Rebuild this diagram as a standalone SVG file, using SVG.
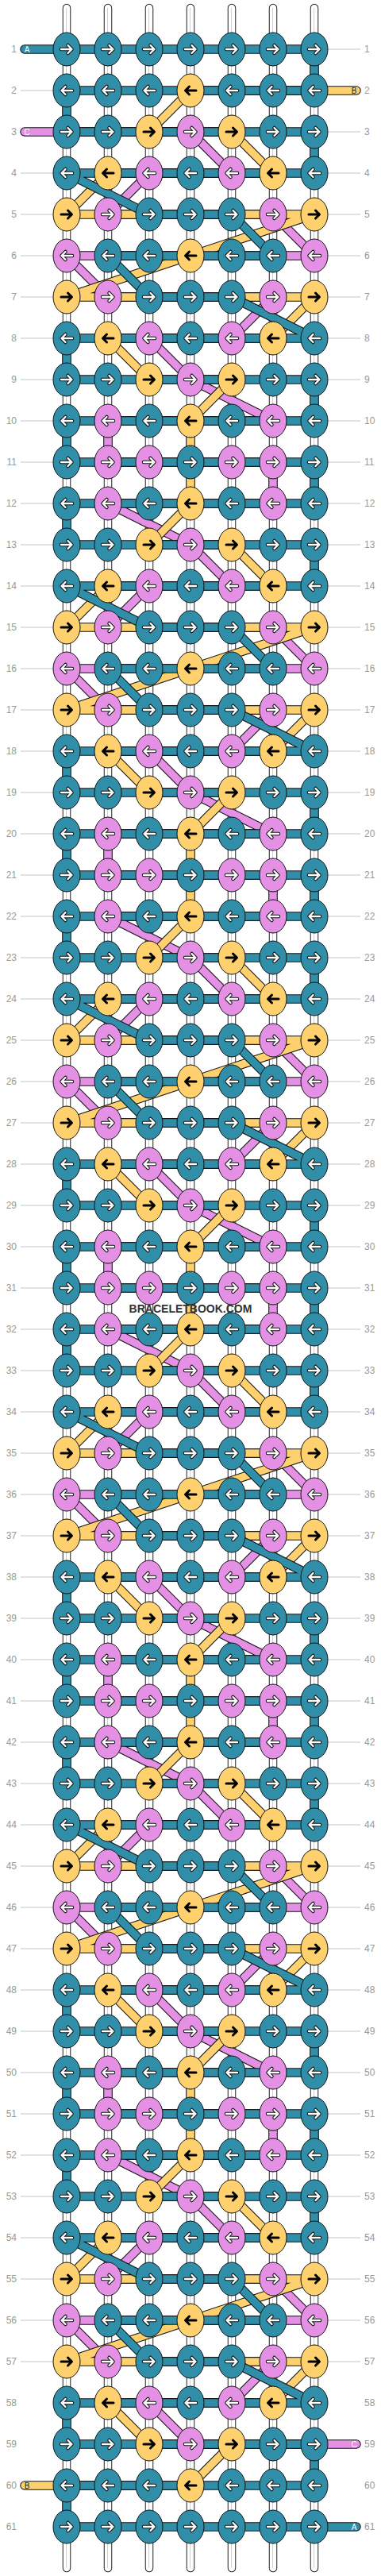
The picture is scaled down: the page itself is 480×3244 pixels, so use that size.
<svg xmlns="http://www.w3.org/2000/svg" width="480" height="3244" viewBox="0 0 480 3244">
<style>
.bg{fill:#fff}
.gl{fill:none;stroke:#c4c4c4;stroke-width:1}
.so{fill:none;stroke:#222;stroke-width:10.5;stroke-linecap:round}
.si{fill:none;stroke:#fff;stroke-width:8.5;stroke-linecap:round}
.sc{fill:none;stroke:#d0d0d0;stroke-width:1}
.tb{fill:none;stroke:#111;stroke-width:11.5;stroke-linejoin:round;stroke-linecap:round}
.tc{fill:none;stroke-width:9.5;stroke-linejoin:round;stroke-linecap:round}
.cp{stroke:#e490e4}
.cy{stroke:#fed06e}
.ct{stroke:#308ea9}
.T{fill:#308ea9;stroke:#111;stroke-width:1}
.Y{fill:#fed06e;stroke:#111;stroke-width:1}
.P{fill:#e490e4;stroke:#111;stroke-width:1}
.ao{fill:none;stroke:#111;stroke-width:4.5;stroke-linecap:round;stroke-linejoin:round}
.aw{fill:none;stroke:#fff;stroke-width:2.4;stroke-linecap:round;stroke-linejoin:round}
.ab{fill:none;stroke:#000;stroke-width:3;stroke-linecap:round;stroke-linejoin:round}
.l{font-family:"Liberation Sans",Arial,sans-serif;font-size:12px;fill:#999;text-anchor:end}
.r{font-family:"Liberation Sans",Arial,sans-serif;font-size:12px;fill:#999;text-anchor:start}
.sl{font-family:"Liberation Sans",Arial,sans-serif;font-size:10px;text-anchor:middle}
.wm{font-family:"Liberation Sans",Arial,sans-serif;font-size:14px;font-weight:bold;fill:#333;text-anchor:middle}
</style>
<defs>
<path id="aR" d="M-7 0H6M1.5-5L6.5 0L1.5 5"/>
<path id="aL" d="M7 0H-6M-1.5-5L-6.5 0L-1.5 5"/>
<g id="TR"><ellipse rx="17" ry="21" class="T"/><use href="#aR" class="ao"/><use href="#aR" class="aw"/></g>
<g id="TL"><ellipse rx="17" ry="21" class="T"/><use href="#aL" class="ao"/><use href="#aL" class="aw"/></g>
<g id="PR"><ellipse rx="17" ry="21" class="P"/><use href="#aR" class="ao"/><use href="#aR" class="aw"/></g>
<g id="PL"><ellipse rx="17" ry="21" class="P"/><use href="#aL" class="ao"/><use href="#aL" class="aw"/></g>
<g id="YR"><ellipse rx="17" ry="21" class="Y"/><use href="#aR" class="ab"/></g>
<g id="YL"><ellipse rx="17" ry="21" class="Y"/><use href="#aL" class="ab"/></g>
<path id="pinkD" d="M31 166H240L292 218h-104 l-52 52 h208 l52 52 h-312 l52 52 h208 l-52 52 h-104 l52 52 l104 52 h-208 v52 h208 v52 h-208 l104 52 l52 52h-104 l-52 52 h208 l52 52 h-312 l52 52 h208 l-52 52 h-104 l52 52 l104 52 h-208 v52 h208 v52 h-208 l104 52 l52 52h-104 l-52 52 h208 l52 52 h-312 l52 52 h208 l-52 52 h-104 l52 52 l104 52 h-208 v52 h208 v52 h-208 l104 52 l52 52h-104 l-52 52 h208 l52 52 h-312 l52 52 h208 l-52 52 h-104 l52 52 l104 52 h-208 v52 h208 v52 h-208 l104 52 l52 52h-104 l-52 52 h208 l52 52 h-312 l52 52 h208 l-52 52 h-104 l52 52 l104 52 h-208 v52 h208 v52 h-208 l104 52 l52 52h-104 l-52 52 h208 l52 52 h-312 l52 52 h208 l-52 52 h-104 l52 52H449"/>
<path id="yelD" d="M449 114H240L188 166H292L344 218h-208 l-52 52 h312 l-156 52 l-156 52 h312 l-52 52 h-208 l52 52 h104 l-52 52 v104 l-52 52 h104 l52 52h-208 l-52 52 h312 l-156 52 l-156 52 h312 l-52 52 h-208 l52 52 h104 l-52 52 v104 l-52 52 h104 l52 52h-208 l-52 52 h312 l-156 52 l-156 52 h312 l-52 52 h-208 l52 52 h104 l-52 52 v104 l-52 52 h104 l52 52h-208 l-52 52 h312 l-156 52 l-156 52 h312 l-52 52 h-208 l52 52 h104 l-52 52 v104 l-52 52 h104 l52 52h-208 l-52 52 h312 l-156 52 l-156 52 h312 l-52 52 h-208 l52 52 h104 l-52 52 v104 l-52 52 h104 l52 52h-208 l-52 52 h312 l-156 52 l-156 52 h312 l-52 52 h-208 l52 52 h104L240 3130H31"/>
<path id="tealD" d="M31 62H396V114H84V166H396V218h-312 l104 52 h104 l52 52 h-208 l52 52 h104 l104 52 h-312 v52 h312 v52 h-312 v52 h312 v52 h-312 v52 h312 v52h-312 l104 52 h104 l52 52 h-208 l52 52 h104 l104 52 h-312 v52 h312 v52 h-312 v52 h312 v52 h-312 v52 h312 v52h-312 l104 52 h104 l52 52 h-208 l52 52 h104 l104 52 h-312 v52 h312 v52 h-312 v52 h312 v52 h-312 v52 h312 v52h-312 l104 52 h104 l52 52 h-208 l52 52 h104 l104 52 h-312 v52 h312 v52 h-312 v52 h312 v52 h-312 v52 h312 v52h-312 l104 52 h104 l52 52 h-208 l52 52 h104 l104 52 h-312 v52 h312 v52 h-312 v52 h312 v52 h-312 v52 h312 v52h-312 l104 52 h104 l52 52 h-208 l52 52 h104 l104 52 h-312 v52 h312V3130H84V3182H449"/>
</defs>
<rect class="bg" x="0" y="0" width="480" height="3244"/>
<g id="rowlines">
<path class="gl" d="M26 62h58m312 0h58m-428 52h58m312 0h58m-428 52h58m312 0h58m-428 52h58m312 0h58m-428 52h58m312 0h58m-428 52h58m312 0h58m-428 52h58m312 0h58m-428 52h58m312 0h58m-428 52h58m312 0h58m-428 52h58m312 0h58m-428 52h58m312 0h58m-428 52h58m312 0h58m-428 52h58m312 0h58m-428 52h58m312 0h58m-428 52h58m312 0h58m-428 52h58m312 0h58m-428 52h58m312 0h58m-428 52h58m312 0h58m-428 52h58m312 0h58m-428 52h58m312 0h58m-428 52h58m312 0h58m-428 52h58m312 0h58m-428 52h58m312 0h58m-428 52h58m312 0h58m-428 52h58m312 0h58m-428 52h58m312 0h58m-428 52h58m312 0h58m-428 52h58m312 0h58m-428 52h58m312 0h58m-428 52h58m312 0h58m-428 52h58m312 0h58m-428 52h58m312 0h58m-428 52h58m312 0h58m-428 52h58m312 0h58m-428 52h58m312 0h58m-428 52h58m312 0h58m-428 52h58m312 0h58m-428 52h58m312 0h58m-428 52h58m312 0h58m-428 52h58m312 0h58m-428 52h58m312 0h58m-428 52h58m312 0h58m-428 52h58m312 0h58m-428 52h58m312 0h58m-428 52h58m312 0h58m-428 52h58m312 0h58m-428 52h58m312 0h58m-428 52h58m312 0h58m-428 52h58m312 0h58m-428 52h58m312 0h58m-428 52h58m312 0h58m-428 52h58m312 0h58m-428 52h58m312 0h58m-428 52h58m312 0h58m-428 52h58m312 0h58m-428 52h58m312 0h58m-428 52h58m312 0h58"/>
</g>
<g id="strings">
<path class="so" d="M84 10V3234M136 10V3234M188 10V3234M240 10V3234M292 10V3234M344 10V3234M396 10V3234"/>
<path class="si" d="M84 10V3234M136 10V3234M188 10V3234M240 10V3234M292 10V3234M344 10V3234M396 10V3234"/>
<path class="sc" d="M83.5 10V3234M135.5 10V3234M187.5 10V3234M239.5 10V3234M291.5 10V3234M343.5 10V3234M395.5 10V3234"/>
</g>
<g id="connectors">
<use href="#pinkD" class="tb"/>
<use href="#pinkD" class="tc cp"/>
<use href="#yelD" class="tb"/>
<use href="#yelD" class="tc cy"/>
<use href="#tealD" class="tb"/>
<use href="#tealD" class="tc ct"/>
</g>
<g id="nodes">
<g id="n1-1"><use href="#TR" x="84" y="62"/></g><g id="n1-2"><use href="#TR" x="136" y="62"/></g><g id="n1-3"><use href="#TR" x="188" y="62"/></g><g id="n1-4"><use href="#TR" x="240" y="62"/></g><g id="n1-5"><use href="#TR" x="292" y="62"/></g><g id="n1-6"><use href="#TR" x="344" y="62"/></g><g id="n1-7"><use href="#TR" x="396" y="62"/></g>
<g id="n2-1"><use href="#TL" x="84" y="114"/></g><g id="n2-2"><use href="#TL" x="136" y="114"/></g><g id="n2-3"><use href="#TL" x="188" y="114"/></g><g id="n2-4"><use href="#YL" x="240" y="114"/></g><g id="n2-5"><use href="#TL" x="292" y="114"/></g><g id="n2-6"><use href="#TL" x="344" y="114"/></g><g id="n2-7"><use href="#TL" x="396" y="114"/></g>
<g id="n3-1"><use href="#TR" x="84" y="166"/></g><g id="n3-2"><use href="#TR" x="136" y="166"/></g><g id="n3-3"><use href="#YR" x="188" y="166"/></g><g id="n3-4"><use href="#PR" x="240" y="166"/></g><g id="n3-5"><use href="#YR" x="292" y="166"/></g><g id="n3-6"><use href="#TR" x="344" y="166"/></g><g id="n3-7"><use href="#TR" x="396" y="166"/></g>
<g id="n4-1"><use href="#TL" x="84" y="218"/></g><g id="n4-2"><use href="#YL" x="136" y="218"/></g><g id="n4-3"><use href="#PL" x="188" y="218"/></g><g id="n4-4"><use href="#TL" x="240" y="218"/></g><g id="n4-5"><use href="#PL" x="292" y="218"/></g><g id="n4-6"><use href="#YL" x="344" y="218"/></g><g id="n4-7"><use href="#TL" x="396" y="218"/></g>
<g id="n5-1"><use href="#YR" x="84" y="270"/></g><g id="n5-2"><use href="#PR" x="136" y="270"/></g><g id="n5-3"><use href="#TR" x="188" y="270"/></g><g id="n5-4"><use href="#TR" x="240" y="270"/></g><g id="n5-5"><use href="#TR" x="292" y="270"/></g><g id="n5-6"><use href="#PR" x="344" y="270"/></g><g id="n5-7"><use href="#YR" x="396" y="270"/></g>
<g id="n6-1"><use href="#PL" x="84" y="322"/></g><g id="n6-2"><use href="#TL" x="136" y="322"/></g><g id="n6-3"><use href="#TL" x="188" y="322"/></g><g id="n6-4"><use href="#YL" x="240" y="322"/></g><g id="n6-5"><use href="#TL" x="292" y="322"/></g><g id="n6-6"><use href="#TL" x="344" y="322"/></g><g id="n6-7"><use href="#PL" x="396" y="322"/></g>
<g id="n7-1"><use href="#YR" x="84" y="374"/></g><g id="n7-2"><use href="#PR" x="136" y="374"/></g><g id="n7-3"><use href="#TR" x="188" y="374"/></g><g id="n7-4"><use href="#TR" x="240" y="374"/></g><g id="n7-5"><use href="#TR" x="292" y="374"/></g><g id="n7-6"><use href="#PR" x="344" y="374"/></g><g id="n7-7"><use href="#YR" x="396" y="374"/></g>
<g id="n8-1"><use href="#TL" x="84" y="426"/></g><g id="n8-2"><use href="#YL" x="136" y="426"/></g><g id="n8-3"><use href="#PL" x="188" y="426"/></g><g id="n8-4"><use href="#TL" x="240" y="426"/></g><g id="n8-5"><use href="#PL" x="292" y="426"/></g><g id="n8-6"><use href="#YL" x="344" y="426"/></g><g id="n8-7"><use href="#TL" x="396" y="426"/></g>
<g id="n9-1"><use href="#TR" x="84" y="478"/></g><g id="n9-2"><use href="#TR" x="136" y="478"/></g><g id="n9-3"><use href="#YR" x="188" y="478"/></g><g id="n9-4"><use href="#PR" x="240" y="478"/></g><g id="n9-5"><use href="#YR" x="292" y="478"/></g><g id="n9-6"><use href="#TR" x="344" y="478"/></g><g id="n9-7"><use href="#TR" x="396" y="478"/></g>
<g id="n10-1"><use href="#TL" x="84" y="530"/></g><g id="n10-2"><use href="#PL" x="136" y="530"/></g><g id="n10-3"><use href="#TL" x="188" y="530"/></g><g id="n10-4"><use href="#YL" x="240" y="530"/></g><g id="n10-5"><use href="#TL" x="292" y="530"/></g><g id="n10-6"><use href="#PL" x="344" y="530"/></g><g id="n10-7"><use href="#TL" x="396" y="530"/></g>
<g id="n11-1"><use href="#TR" x="84" y="582"/></g><g id="n11-2"><use href="#PR" x="136" y="582"/></g><g id="n11-3"><use href="#PR" x="188" y="582"/></g><g id="n11-4"><use href="#TR" x="240" y="582"/></g><g id="n11-5"><use href="#PR" x="292" y="582"/></g><g id="n11-6"><use href="#PR" x="344" y="582"/></g><g id="n11-7"><use href="#TR" x="396" y="582"/></g>
<g id="n12-1"><use href="#TL" x="84" y="634"/></g><g id="n12-2"><use href="#PL" x="136" y="634"/></g><g id="n12-3"><use href="#TL" x="188" y="634"/></g><g id="n12-4"><use href="#YL" x="240" y="634"/></g><g id="n12-5"><use href="#TL" x="292" y="634"/></g><g id="n12-6"><use href="#PL" x="344" y="634"/></g><g id="n12-7"><use href="#TL" x="396" y="634"/></g>
<g id="n13-1"><use href="#TR" x="84" y="686"/></g><g id="n13-2"><use href="#TR" x="136" y="686"/></g><g id="n13-3"><use href="#YR" x="188" y="686"/></g><g id="n13-4"><use href="#PR" x="240" y="686"/></g><g id="n13-5"><use href="#YR" x="292" y="686"/></g><g id="n13-6"><use href="#TR" x="344" y="686"/></g><g id="n13-7"><use href="#TR" x="396" y="686"/></g>
<g id="n14-1"><use href="#TL" x="84" y="738"/></g><g id="n14-2"><use href="#YL" x="136" y="738"/></g><g id="n14-3"><use href="#PL" x="188" y="738"/></g><g id="n14-4"><use href="#TL" x="240" y="738"/></g><g id="n14-5"><use href="#PL" x="292" y="738"/></g><g id="n14-6"><use href="#YL" x="344" y="738"/></g><g id="n14-7"><use href="#TL" x="396" y="738"/></g>
<g id="n15-1"><use href="#YR" x="84" y="790"/></g><g id="n15-2"><use href="#PR" x="136" y="790"/></g><g id="n15-3"><use href="#TR" x="188" y="790"/></g><g id="n15-4"><use href="#TR" x="240" y="790"/></g><g id="n15-5"><use href="#TR" x="292" y="790"/></g><g id="n15-6"><use href="#PR" x="344" y="790"/></g><g id="n15-7"><use href="#YR" x="396" y="790"/></g>
<g id="n16-1"><use href="#PL" x="84" y="842"/></g><g id="n16-2"><use href="#TL" x="136" y="842"/></g><g id="n16-3"><use href="#TL" x="188" y="842"/></g><g id="n16-4"><use href="#YL" x="240" y="842"/></g><g id="n16-5"><use href="#TL" x="292" y="842"/></g><g id="n16-6"><use href="#TL" x="344" y="842"/></g><g id="n16-7"><use href="#PL" x="396" y="842"/></g>
<g id="n17-1"><use href="#YR" x="84" y="894"/></g><g id="n17-2"><use href="#PR" x="136" y="894"/></g><g id="n17-3"><use href="#TR" x="188" y="894"/></g><g id="n17-4"><use href="#TR" x="240" y="894"/></g><g id="n17-5"><use href="#TR" x="292" y="894"/></g><g id="n17-6"><use href="#PR" x="344" y="894"/></g><g id="n17-7"><use href="#YR" x="396" y="894"/></g>
<g id="n18-1"><use href="#TL" x="84" y="946"/></g><g id="n18-2"><use href="#YL" x="136" y="946"/></g><g id="n18-3"><use href="#PL" x="188" y="946"/></g><g id="n18-4"><use href="#TL" x="240" y="946"/></g><g id="n18-5"><use href="#PL" x="292" y="946"/></g><g id="n18-6"><use href="#YL" x="344" y="946"/></g><g id="n18-7"><use href="#TL" x="396" y="946"/></g>
<g id="n19-1"><use href="#TR" x="84" y="998"/></g><g id="n19-2"><use href="#TR" x="136" y="998"/></g><g id="n19-3"><use href="#YR" x="188" y="998"/></g><g id="n19-4"><use href="#PR" x="240" y="998"/></g><g id="n19-5"><use href="#YR" x="292" y="998"/></g><g id="n19-6"><use href="#TR" x="344" y="998"/></g><g id="n19-7"><use href="#TR" x="396" y="998"/></g>
<g id="n20-1"><use href="#TL" x="84" y="1050"/></g><g id="n20-2"><use href="#PL" x="136" y="1050"/></g><g id="n20-3"><use href="#TL" x="188" y="1050"/></g><g id="n20-4"><use href="#YL" x="240" y="1050"/></g><g id="n20-5"><use href="#TL" x="292" y="1050"/></g><g id="n20-6"><use href="#PL" x="344" y="1050"/></g><g id="n20-7"><use href="#TL" x="396" y="1050"/></g>
<g id="n21-1"><use href="#TR" x="84" y="1102"/></g><g id="n21-2"><use href="#PR" x="136" y="1102"/></g><g id="n21-3"><use href="#PR" x="188" y="1102"/></g><g id="n21-4"><use href="#TR" x="240" y="1102"/></g><g id="n21-5"><use href="#PR" x="292" y="1102"/></g><g id="n21-6"><use href="#PR" x="344" y="1102"/></g><g id="n21-7"><use href="#TR" x="396" y="1102"/></g>
<g id="n22-1"><use href="#TL" x="84" y="1154"/></g><g id="n22-2"><use href="#PL" x="136" y="1154"/></g><g id="n22-3"><use href="#TL" x="188" y="1154"/></g><g id="n22-4"><use href="#YL" x="240" y="1154"/></g><g id="n22-5"><use href="#TL" x="292" y="1154"/></g><g id="n22-6"><use href="#PL" x="344" y="1154"/></g><g id="n22-7"><use href="#TL" x="396" y="1154"/></g>
<g id="n23-1"><use href="#TR" x="84" y="1206"/></g><g id="n23-2"><use href="#TR" x="136" y="1206"/></g><g id="n23-3"><use href="#YR" x="188" y="1206"/></g><g id="n23-4"><use href="#PR" x="240" y="1206"/></g><g id="n23-5"><use href="#YR" x="292" y="1206"/></g><g id="n23-6"><use href="#TR" x="344" y="1206"/></g><g id="n23-7"><use href="#TR" x="396" y="1206"/></g>
<g id="n24-1"><use href="#TL" x="84" y="1258"/></g><g id="n24-2"><use href="#YL" x="136" y="1258"/></g><g id="n24-3"><use href="#PL" x="188" y="1258"/></g><g id="n24-4"><use href="#TL" x="240" y="1258"/></g><g id="n24-5"><use href="#PL" x="292" y="1258"/></g><g id="n24-6"><use href="#YL" x="344" y="1258"/></g><g id="n24-7"><use href="#TL" x="396" y="1258"/></g>
<g id="n25-1"><use href="#YR" x="84" y="1310"/></g><g id="n25-2"><use href="#PR" x="136" y="1310"/></g><g id="n25-3"><use href="#TR" x="188" y="1310"/></g><g id="n25-4"><use href="#TR" x="240" y="1310"/></g><g id="n25-5"><use href="#TR" x="292" y="1310"/></g><g id="n25-6"><use href="#PR" x="344" y="1310"/></g><g id="n25-7"><use href="#YR" x="396" y="1310"/></g>
<g id="n26-1"><use href="#PL" x="84" y="1362"/></g><g id="n26-2"><use href="#TL" x="136" y="1362"/></g><g id="n26-3"><use href="#TL" x="188" y="1362"/></g><g id="n26-4"><use href="#YL" x="240" y="1362"/></g><g id="n26-5"><use href="#TL" x="292" y="1362"/></g><g id="n26-6"><use href="#TL" x="344" y="1362"/></g><g id="n26-7"><use href="#PL" x="396" y="1362"/></g>
<g id="n27-1"><use href="#YR" x="84" y="1414"/></g><g id="n27-2"><use href="#PR" x="136" y="1414"/></g><g id="n27-3"><use href="#TR" x="188" y="1414"/></g><g id="n27-4"><use href="#TR" x="240" y="1414"/></g><g id="n27-5"><use href="#TR" x="292" y="1414"/></g><g id="n27-6"><use href="#PR" x="344" y="1414"/></g><g id="n27-7"><use href="#YR" x="396" y="1414"/></g>
<g id="n28-1"><use href="#TL" x="84" y="1466"/></g><g id="n28-2"><use href="#YL" x="136" y="1466"/></g><g id="n28-3"><use href="#PL" x="188" y="1466"/></g><g id="n28-4"><use href="#TL" x="240" y="1466"/></g><g id="n28-5"><use href="#PL" x="292" y="1466"/></g><g id="n28-6"><use href="#YL" x="344" y="1466"/></g><g id="n28-7"><use href="#TL" x="396" y="1466"/></g>
<g id="n29-1"><use href="#TR" x="84" y="1518"/></g><g id="n29-2"><use href="#TR" x="136" y="1518"/></g><g id="n29-3"><use href="#YR" x="188" y="1518"/></g><g id="n29-4"><use href="#PR" x="240" y="1518"/></g><g id="n29-5"><use href="#YR" x="292" y="1518"/></g><g id="n29-6"><use href="#TR" x="344" y="1518"/></g><g id="n29-7"><use href="#TR" x="396" y="1518"/></g>
<g id="n30-1"><use href="#TL" x="84" y="1570"/></g><g id="n30-2"><use href="#PL" x="136" y="1570"/></g><g id="n30-3"><use href="#TL" x="188" y="1570"/></g><g id="n30-4"><use href="#YL" x="240" y="1570"/></g><g id="n30-5"><use href="#TL" x="292" y="1570"/></g><g id="n30-6"><use href="#PL" x="344" y="1570"/></g><g id="n30-7"><use href="#TL" x="396" y="1570"/></g>
<g id="n31-1"><use href="#TR" x="84" y="1622"/></g><g id="n31-2"><use href="#PR" x="136" y="1622"/></g><g id="n31-3"><use href="#PR" x="188" y="1622"/></g><g id="n31-4"><use href="#TR" x="240" y="1622"/></g><g id="n31-5"><use href="#PR" x="292" y="1622"/></g><g id="n31-6"><use href="#PR" x="344" y="1622"/></g><g id="n31-7"><use href="#TR" x="396" y="1622"/></g>
<g id="n32-1"><use href="#TL" x="84" y="1674"/></g><g id="n32-2"><use href="#PL" x="136" y="1674"/></g><g id="n32-3"><use href="#TL" x="188" y="1674"/></g><g id="n32-4"><use href="#YL" x="240" y="1674"/></g><g id="n32-5"><use href="#TL" x="292" y="1674"/></g><g id="n32-6"><use href="#PL" x="344" y="1674"/></g><g id="n32-7"><use href="#TL" x="396" y="1674"/></g>
<g id="n33-1"><use href="#TR" x="84" y="1726"/></g><g id="n33-2"><use href="#TR" x="136" y="1726"/></g><g id="n33-3"><use href="#YR" x="188" y="1726"/></g><g id="n33-4"><use href="#PR" x="240" y="1726"/></g><g id="n33-5"><use href="#YR" x="292" y="1726"/></g><g id="n33-6"><use href="#TR" x="344" y="1726"/></g><g id="n33-7"><use href="#TR" x="396" y="1726"/></g>
<g id="n34-1"><use href="#TL" x="84" y="1778"/></g><g id="n34-2"><use href="#YL" x="136" y="1778"/></g><g id="n34-3"><use href="#PL" x="188" y="1778"/></g><g id="n34-4"><use href="#TL" x="240" y="1778"/></g><g id="n34-5"><use href="#PL" x="292" y="1778"/></g><g id="n34-6"><use href="#YL" x="344" y="1778"/></g><g id="n34-7"><use href="#TL" x="396" y="1778"/></g>
<g id="n35-1"><use href="#YR" x="84" y="1830"/></g><g id="n35-2"><use href="#PR" x="136" y="1830"/></g><g id="n35-3"><use href="#TR" x="188" y="1830"/></g><g id="n35-4"><use href="#TR" x="240" y="1830"/></g><g id="n35-5"><use href="#TR" x="292" y="1830"/></g><g id="n35-6"><use href="#PR" x="344" y="1830"/></g><g id="n35-7"><use href="#YR" x="396" y="1830"/></g>
<g id="n36-1"><use href="#PL" x="84" y="1882"/></g><g id="n36-2"><use href="#TL" x="136" y="1882"/></g><g id="n36-3"><use href="#TL" x="188" y="1882"/></g><g id="n36-4"><use href="#YL" x="240" y="1882"/></g><g id="n36-5"><use href="#TL" x="292" y="1882"/></g><g id="n36-6"><use href="#TL" x="344" y="1882"/></g><g id="n36-7"><use href="#PL" x="396" y="1882"/></g>
<g id="n37-1"><use href="#YR" x="84" y="1934"/></g><g id="n37-2"><use href="#PR" x="136" y="1934"/></g><g id="n37-3"><use href="#TR" x="188" y="1934"/></g><g id="n37-4"><use href="#TR" x="240" y="1934"/></g><g id="n37-5"><use href="#TR" x="292" y="1934"/></g><g id="n37-6"><use href="#PR" x="344" y="1934"/></g><g id="n37-7"><use href="#YR" x="396" y="1934"/></g>
<g id="n38-1"><use href="#TL" x="84" y="1986"/></g><g id="n38-2"><use href="#YL" x="136" y="1986"/></g><g id="n38-3"><use href="#PL" x="188" y="1986"/></g><g id="n38-4"><use href="#TL" x="240" y="1986"/></g><g id="n38-5"><use href="#PL" x="292" y="1986"/></g><g id="n38-6"><use href="#YL" x="344" y="1986"/></g><g id="n38-7"><use href="#TL" x="396" y="1986"/></g>
<g id="n39-1"><use href="#TR" x="84" y="2038"/></g><g id="n39-2"><use href="#TR" x="136" y="2038"/></g><g id="n39-3"><use href="#YR" x="188" y="2038"/></g><g id="n39-4"><use href="#PR" x="240" y="2038"/></g><g id="n39-5"><use href="#YR" x="292" y="2038"/></g><g id="n39-6"><use href="#TR" x="344" y="2038"/></g><g id="n39-7"><use href="#TR" x="396" y="2038"/></g>
<g id="n40-1"><use href="#TL" x="84" y="2090"/></g><g id="n40-2"><use href="#PL" x="136" y="2090"/></g><g id="n40-3"><use href="#TL" x="188" y="2090"/></g><g id="n40-4"><use href="#YL" x="240" y="2090"/></g><g id="n40-5"><use href="#TL" x="292" y="2090"/></g><g id="n40-6"><use href="#PL" x="344" y="2090"/></g><g id="n40-7"><use href="#TL" x="396" y="2090"/></g>
<g id="n41-1"><use href="#TR" x="84" y="2142"/></g><g id="n41-2"><use href="#PR" x="136" y="2142"/></g><g id="n41-3"><use href="#PR" x="188" y="2142"/></g><g id="n41-4"><use href="#TR" x="240" y="2142"/></g><g id="n41-5"><use href="#PR" x="292" y="2142"/></g><g id="n41-6"><use href="#PR" x="344" y="2142"/></g><g id="n41-7"><use href="#TR" x="396" y="2142"/></g>
<g id="n42-1"><use href="#TL" x="84" y="2194"/></g><g id="n42-2"><use href="#PL" x="136" y="2194"/></g><g id="n42-3"><use href="#TL" x="188" y="2194"/></g><g id="n42-4"><use href="#YL" x="240" y="2194"/></g><g id="n42-5"><use href="#TL" x="292" y="2194"/></g><g id="n42-6"><use href="#PL" x="344" y="2194"/></g><g id="n42-7"><use href="#TL" x="396" y="2194"/></g>
<g id="n43-1"><use href="#TR" x="84" y="2246"/></g><g id="n43-2"><use href="#TR" x="136" y="2246"/></g><g id="n43-3"><use href="#YR" x="188" y="2246"/></g><g id="n43-4"><use href="#PR" x="240" y="2246"/></g><g id="n43-5"><use href="#YR" x="292" y="2246"/></g><g id="n43-6"><use href="#TR" x="344" y="2246"/></g><g id="n43-7"><use href="#TR" x="396" y="2246"/></g>
<g id="n44-1"><use href="#TL" x="84" y="2298"/></g><g id="n44-2"><use href="#YL" x="136" y="2298"/></g><g id="n44-3"><use href="#PL" x="188" y="2298"/></g><g id="n44-4"><use href="#TL" x="240" y="2298"/></g><g id="n44-5"><use href="#PL" x="292" y="2298"/></g><g id="n44-6"><use href="#YL" x="344" y="2298"/></g><g id="n44-7"><use href="#TL" x="396" y="2298"/></g>
<g id="n45-1"><use href="#YR" x="84" y="2350"/></g><g id="n45-2"><use href="#PR" x="136" y="2350"/></g><g id="n45-3"><use href="#TR" x="188" y="2350"/></g><g id="n45-4"><use href="#TR" x="240" y="2350"/></g><g id="n45-5"><use href="#TR" x="292" y="2350"/></g><g id="n45-6"><use href="#PR" x="344" y="2350"/></g><g id="n45-7"><use href="#YR" x="396" y="2350"/></g>
<g id="n46-1"><use href="#PL" x="84" y="2402"/></g><g id="n46-2"><use href="#TL" x="136" y="2402"/></g><g id="n46-3"><use href="#TL" x="188" y="2402"/></g><g id="n46-4"><use href="#YL" x="240" y="2402"/></g><g id="n46-5"><use href="#TL" x="292" y="2402"/></g><g id="n46-6"><use href="#TL" x="344" y="2402"/></g><g id="n46-7"><use href="#PL" x="396" y="2402"/></g>
<g id="n47-1"><use href="#YR" x="84" y="2454"/></g><g id="n47-2"><use href="#PR" x="136" y="2454"/></g><g id="n47-3"><use href="#TR" x="188" y="2454"/></g><g id="n47-4"><use href="#TR" x="240" y="2454"/></g><g id="n47-5"><use href="#TR" x="292" y="2454"/></g><g id="n47-6"><use href="#PR" x="344" y="2454"/></g><g id="n47-7"><use href="#YR" x="396" y="2454"/></g>
<g id="n48-1"><use href="#TL" x="84" y="2506"/></g><g id="n48-2"><use href="#YL" x="136" y="2506"/></g><g id="n48-3"><use href="#PL" x="188" y="2506"/></g><g id="n48-4"><use href="#TL" x="240" y="2506"/></g><g id="n48-5"><use href="#PL" x="292" y="2506"/></g><g id="n48-6"><use href="#YL" x="344" y="2506"/></g><g id="n48-7"><use href="#TL" x="396" y="2506"/></g>
<g id="n49-1"><use href="#TR" x="84" y="2558"/></g><g id="n49-2"><use href="#TR" x="136" y="2558"/></g><g id="n49-3"><use href="#YR" x="188" y="2558"/></g><g id="n49-4"><use href="#PR" x="240" y="2558"/></g><g id="n49-5"><use href="#YR" x="292" y="2558"/></g><g id="n49-6"><use href="#TR" x="344" y="2558"/></g><g id="n49-7"><use href="#TR" x="396" y="2558"/></g>
<g id="n50-1"><use href="#TL" x="84" y="2610"/></g><g id="n50-2"><use href="#PL" x="136" y="2610"/></g><g id="n50-3"><use href="#TL" x="188" y="2610"/></g><g id="n50-4"><use href="#YL" x="240" y="2610"/></g><g id="n50-5"><use href="#TL" x="292" y="2610"/></g><g id="n50-6"><use href="#PL" x="344" y="2610"/></g><g id="n50-7"><use href="#TL" x="396" y="2610"/></g>
<g id="n51-1"><use href="#TR" x="84" y="2662"/></g><g id="n51-2"><use href="#PR" x="136" y="2662"/></g><g id="n51-3"><use href="#PR" x="188" y="2662"/></g><g id="n51-4"><use href="#TR" x="240" y="2662"/></g><g id="n51-5"><use href="#PR" x="292" y="2662"/></g><g id="n51-6"><use href="#PR" x="344" y="2662"/></g><g id="n51-7"><use href="#TR" x="396" y="2662"/></g>
<g id="n52-1"><use href="#TL" x="84" y="2714"/></g><g id="n52-2"><use href="#PL" x="136" y="2714"/></g><g id="n52-3"><use href="#TL" x="188" y="2714"/></g><g id="n52-4"><use href="#YL" x="240" y="2714"/></g><g id="n52-5"><use href="#TL" x="292" y="2714"/></g><g id="n52-6"><use href="#PL" x="344" y="2714"/></g><g id="n52-7"><use href="#TL" x="396" y="2714"/></g>
<g id="n53-1"><use href="#TR" x="84" y="2766"/></g><g id="n53-2"><use href="#TR" x="136" y="2766"/></g><g id="n53-3"><use href="#YR" x="188" y="2766"/></g><g id="n53-4"><use href="#PR" x="240" y="2766"/></g><g id="n53-5"><use href="#YR" x="292" y="2766"/></g><g id="n53-6"><use href="#TR" x="344" y="2766"/></g><g id="n53-7"><use href="#TR" x="396" y="2766"/></g>
<g id="n54-1"><use href="#TL" x="84" y="2818"/></g><g id="n54-2"><use href="#YL" x="136" y="2818"/></g><g id="n54-3"><use href="#PL" x="188" y="2818"/></g><g id="n54-4"><use href="#TL" x="240" y="2818"/></g><g id="n54-5"><use href="#PL" x="292" y="2818"/></g><g id="n54-6"><use href="#YL" x="344" y="2818"/></g><g id="n54-7"><use href="#TL" x="396" y="2818"/></g>
<g id="n55-1"><use href="#YR" x="84" y="2870"/></g><g id="n55-2"><use href="#PR" x="136" y="2870"/></g><g id="n55-3"><use href="#TR" x="188" y="2870"/></g><g id="n55-4"><use href="#TR" x="240" y="2870"/></g><g id="n55-5"><use href="#TR" x="292" y="2870"/></g><g id="n55-6"><use href="#PR" x="344" y="2870"/></g><g id="n55-7"><use href="#YR" x="396" y="2870"/></g>
<g id="n56-1"><use href="#PL" x="84" y="2922"/></g><g id="n56-2"><use href="#TL" x="136" y="2922"/></g><g id="n56-3"><use href="#TL" x="188" y="2922"/></g><g id="n56-4"><use href="#YL" x="240" y="2922"/></g><g id="n56-5"><use href="#TL" x="292" y="2922"/></g><g id="n56-6"><use href="#TL" x="344" y="2922"/></g><g id="n56-7"><use href="#PL" x="396" y="2922"/></g>
<g id="n57-1"><use href="#YR" x="84" y="2974"/></g><g id="n57-2"><use href="#PR" x="136" y="2974"/></g><g id="n57-3"><use href="#TR" x="188" y="2974"/></g><g id="n57-4"><use href="#TR" x="240" y="2974"/></g><g id="n57-5"><use href="#TR" x="292" y="2974"/></g><g id="n57-6"><use href="#PR" x="344" y="2974"/></g><g id="n57-7"><use href="#YR" x="396" y="2974"/></g>
<g id="n58-1"><use href="#TL" x="84" y="3026"/></g><g id="n58-2"><use href="#YL" x="136" y="3026"/></g><g id="n58-3"><use href="#PL" x="188" y="3026"/></g><g id="n58-4"><use href="#TL" x="240" y="3026"/></g><g id="n58-5"><use href="#PL" x="292" y="3026"/></g><g id="n58-6"><use href="#YL" x="344" y="3026"/></g><g id="n58-7"><use href="#TL" x="396" y="3026"/></g>
<g id="n59-1"><use href="#TR" x="84" y="3078"/></g><g id="n59-2"><use href="#TR" x="136" y="3078"/></g><g id="n59-3"><use href="#YR" x="188" y="3078"/></g><g id="n59-4"><use href="#PR" x="240" y="3078"/></g><g id="n59-5"><use href="#YR" x="292" y="3078"/></g><g id="n59-6"><use href="#TR" x="344" y="3078"/></g><g id="n59-7"><use href="#TR" x="396" y="3078"/></g>
<g id="n60-1"><use href="#TL" x="84" y="3130"/></g><g id="n60-2"><use href="#TL" x="136" y="3130"/></g><g id="n60-3"><use href="#TL" x="188" y="3130"/></g><g id="n60-4"><use href="#YL" x="240" y="3130"/></g><g id="n60-5"><use href="#TL" x="292" y="3130"/></g><g id="n60-6"><use href="#TL" x="344" y="3130"/></g><g id="n60-7"><use href="#TL" x="396" y="3130"/></g>
<g id="n61-1"><use href="#TR" x="84" y="3182"/></g><g id="n61-2"><use href="#TR" x="136" y="3182"/></g><g id="n61-3"><use href="#TR" x="188" y="3182"/></g><g id="n61-4"><use href="#TR" x="240" y="3182"/></g><g id="n61-5"><use href="#TR" x="292" y="3182"/></g><g id="n61-6"><use href="#TR" x="344" y="3182"/></g><g id="n61-7"><use href="#TR" x="396" y="3182"/></g>
</g>
<g id="stublabels">
<text class="sl" x="34" y="65.5" fill="#fff">A</text>
<text class="sl" x="446" y="117.5" fill="#222">B</text>
<text class="sl" x="34" y="169.5" fill="#fff">C</text>
<text class="sl" x="446" y="3081.5" fill="#fff">C</text>
<text class="sl" x="34" y="3133.5" fill="#222">B</text>
<text class="sl" x="446" y="3185.5" fill="#fff">A</text>
</g>
<g id="rownumbers">
<text class="l" x="21" y="66">1</text><text class="r" x="459" y="66">1</text>
<text class="l" x="21" y="118">2</text><text class="r" x="459" y="118">2</text>
<text class="l" x="21" y="170">3</text><text class="r" x="459" y="170">3</text>
<text class="l" x="21" y="222">4</text><text class="r" x="459" y="222">4</text>
<text class="l" x="21" y="274">5</text><text class="r" x="459" y="274">5</text>
<text class="l" x="21" y="326">6</text><text class="r" x="459" y="326">6</text>
<text class="l" x="21" y="378">7</text><text class="r" x="459" y="378">7</text>
<text class="l" x="21" y="430">8</text><text class="r" x="459" y="430">8</text>
<text class="l" x="21" y="482">9</text><text class="r" x="459" y="482">9</text>
<text class="l" x="21" y="534">10</text><text class="r" x="459" y="534">10</text>
<text class="l" x="21" y="586">11</text><text class="r" x="459" y="586">11</text>
<text class="l" x="21" y="638">12</text><text class="r" x="459" y="638">12</text>
<text class="l" x="21" y="690">13</text><text class="r" x="459" y="690">13</text>
<text class="l" x="21" y="742">14</text><text class="r" x="459" y="742">14</text>
<text class="l" x="21" y="794">15</text><text class="r" x="459" y="794">15</text>
<text class="l" x="21" y="846">16</text><text class="r" x="459" y="846">16</text>
<text class="l" x="21" y="898">17</text><text class="r" x="459" y="898">17</text>
<text class="l" x="21" y="950">18</text><text class="r" x="459" y="950">18</text>
<text class="l" x="21" y="1002">19</text><text class="r" x="459" y="1002">19</text>
<text class="l" x="21" y="1054">20</text><text class="r" x="459" y="1054">20</text>
<text class="l" x="21" y="1106">21</text><text class="r" x="459" y="1106">21</text>
<text class="l" x="21" y="1158">22</text><text class="r" x="459" y="1158">22</text>
<text class="l" x="21" y="1210">23</text><text class="r" x="459" y="1210">23</text>
<text class="l" x="21" y="1262">24</text><text class="r" x="459" y="1262">24</text>
<text class="l" x="21" y="1314">25</text><text class="r" x="459" y="1314">25</text>
<text class="l" x="21" y="1366">26</text><text class="r" x="459" y="1366">26</text>
<text class="l" x="21" y="1418">27</text><text class="r" x="459" y="1418">27</text>
<text class="l" x="21" y="1470">28</text><text class="r" x="459" y="1470">28</text>
<text class="l" x="21" y="1522">29</text><text class="r" x="459" y="1522">29</text>
<text class="l" x="21" y="1574">30</text><text class="r" x="459" y="1574">30</text>
<text class="l" x="21" y="1626">31</text><text class="r" x="459" y="1626">31</text>
<text class="l" x="21" y="1678">32</text><text class="r" x="459" y="1678">32</text>
<text class="l" x="21" y="1730">33</text><text class="r" x="459" y="1730">33</text>
<text class="l" x="21" y="1782">34</text><text class="r" x="459" y="1782">34</text>
<text class="l" x="21" y="1834">35</text><text class="r" x="459" y="1834">35</text>
<text class="l" x="21" y="1886">36</text><text class="r" x="459" y="1886">36</text>
<text class="l" x="21" y="1938">37</text><text class="r" x="459" y="1938">37</text>
<text class="l" x="21" y="1990">38</text><text class="r" x="459" y="1990">38</text>
<text class="l" x="21" y="2042">39</text><text class="r" x="459" y="2042">39</text>
<text class="l" x="21" y="2094">40</text><text class="r" x="459" y="2094">40</text>
<text class="l" x="21" y="2146">41</text><text class="r" x="459" y="2146">41</text>
<text class="l" x="21" y="2198">42</text><text class="r" x="459" y="2198">42</text>
<text class="l" x="21" y="2250">43</text><text class="r" x="459" y="2250">43</text>
<text class="l" x="21" y="2302">44</text><text class="r" x="459" y="2302">44</text>
<text class="l" x="21" y="2354">45</text><text class="r" x="459" y="2354">45</text>
<text class="l" x="21" y="2406">46</text><text class="r" x="459" y="2406">46</text>
<text class="l" x="21" y="2458">47</text><text class="r" x="459" y="2458">47</text>
<text class="l" x="21" y="2510">48</text><text class="r" x="459" y="2510">48</text>
<text class="l" x="21" y="2562">49</text><text class="r" x="459" y="2562">49</text>
<text class="l" x="21" y="2614">50</text><text class="r" x="459" y="2614">50</text>
<text class="l" x="21" y="2666">51</text><text class="r" x="459" y="2666">51</text>
<text class="l" x="21" y="2718">52</text><text class="r" x="459" y="2718">52</text>
<text class="l" x="21" y="2770">53</text><text class="r" x="459" y="2770">53</text>
<text class="l" x="21" y="2822">54</text><text class="r" x="459" y="2822">54</text>
<text class="l" x="21" y="2874">55</text><text class="r" x="459" y="2874">55</text>
<text class="l" x="21" y="2926">56</text><text class="r" x="459" y="2926">56</text>
<text class="l" x="21" y="2978">57</text><text class="r" x="459" y="2978">57</text>
<text class="l" x="21" y="3030">58</text><text class="r" x="459" y="3030">58</text>
<text class="l" x="21" y="3082">59</text><text class="r" x="459" y="3082">59</text>
<text class="l" x="21" y="3134">60</text><text class="r" x="459" y="3134">60</text>
<text class="l" x="21" y="3186">61</text><text class="r" x="459" y="3186">61</text>
</g>
<text id="watermark" class="wm" x="240" y="1653">BRACELETBOOK.COM</text>
</svg>
